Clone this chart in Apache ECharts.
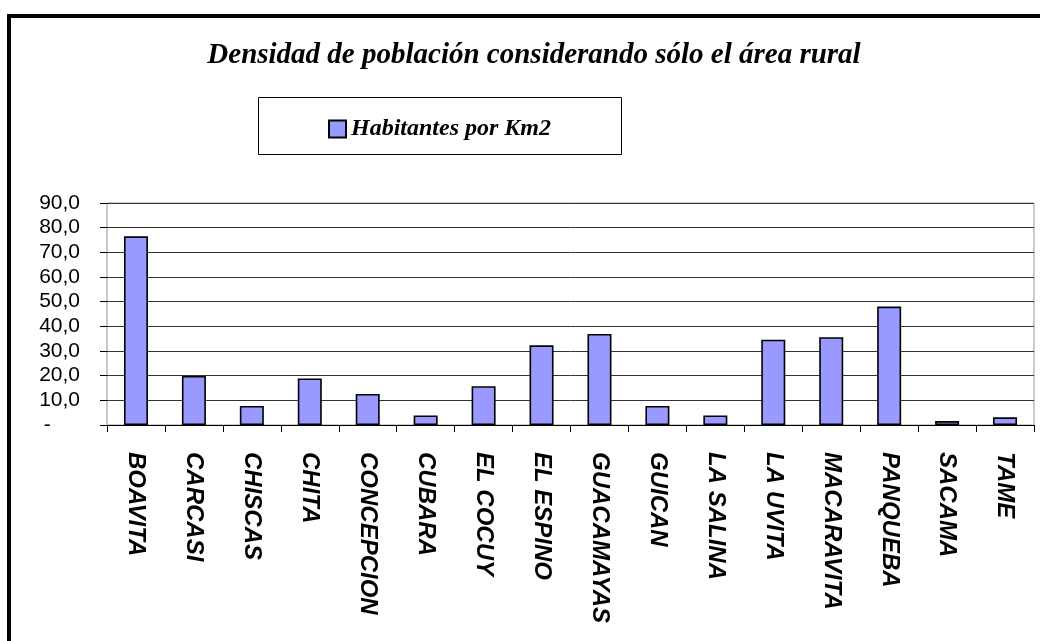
<!DOCTYPE html>
<html lang="es">
<head>
    <meta charset="UTF-8">
    <title>Densidad rural</title>
    <style>
        body {
            margin: 0;
            padding: 0;
            background: #fff;
        }
        #chart {
            width: 1040px;
            height: 641px;
        }
    </style>
</head>
<body>
<div id="chart"></div>
<script src="https://cdn.jsdelivr.net/npm/echarts@6/dist/echarts.min.js"></script>
<script>
    const municipios = [
        "BOAVITA", "CARCASI", "CHISCAS", "CHITA", "CONCEPCION", "CUBARA",
        "EL COCUY", "EL ESPINO", "GUACAMAYAS", "GUICAN", "LA SALINA",
        "LA UVITA", "MACARAVITA", "PANQUEBA", "SACAMA", "TAME"
    ];
    const habitantesKm2 = [
        76.5, 19.9, 7.7, 18.9, 12.6, 3.9,
        15.7, 32.3, 36.9, 7.7, 3.9,
        34.6, 35.6, 48.0, 1.6, 3.1
    ];
    const seriesName = "Habitantes por Km2";
    const titleText = "Densidad de población considerando sólo el área rural";

    const chart = echarts.init(document.getElementById("chart"));

    // excel style number format: 10,0 and "-" for zero
    function fmtY(v) {
        if (v === 0) return "-     ";
        return v.toFixed(1).replace(".", ",");
    }

    const option = {
        backgroundColor: "#fff",
        animation: false,
        title: {
            text: titleText,
            left: 529,
            textAlign: "center",
            top: 36,
            textStyle: {
                fontFamily: "Liberation Serif",
                fontStyle: "italic",
                fontWeight: "bold",
                fontSize: 29,
                color: "#000"
            }
        },
        legend: {
            left: 323,
            top: 112,
            itemWidth: 17,
            itemHeight: 17,
            icon: "rect",
            selectedMode: false,
            data: [seriesName],
            textStyle: {
                fontFamily: "Liberation Serif",
                fontStyle: "italic",
                fontWeight: "bold",
                fontSize: 24,
                color: "#000"
            }
        },
        graphic: [
            {
                type: "rect",
                shape: {x: 9, y: 16, width: 1100, height: 700},
                style: {fill: null, stroke: "#000", lineWidth: 4},
                silent: true
            },
            {
                type: "rect",
                shape: {x: 258.5, y: 97.5, width: 363, height: 57},
                style: {fill: null, stroke: "#000", lineWidth: 1},
                silent: true
            }
        ],
        grid: {
            left: 107,
            right: 6,
            top: 203,
            bottom: 216,
            show: true,
            borderColor: "#999",
            borderWidth: 1
        },
        xAxis: {
            type: "category",
            data: municipios,
            axisLine: {lineStyle: {color: "#000", width: 1}},
            axisTick: {show: true, length: 7, lineStyle: {color: "#000"}},
            axisLabel: {
                rotate: -90,
                margin: 27,
                interval: 0,
                fontFamily: "Liberation Sans",
                fontStyle: "italic",
                fontWeight: "bold",
                fontSize: 24,
                color: "#000"
            }
        },
        yAxis: {
            type: "value",
            min: 0,
            max: 90,
            interval: 10,
            axisLine: {show: false},
            axisTick: {show: true, length: 7, lineStyle: {color: "#000"}},
            splitLine: {lineStyle: {color: "#333", width: 1}},
            axisLabel: {
                formatter: fmtY,
                margin: 27,
                fontFamily: "Liberation Sans",
                fontSize: 21,
                color: "#000"
            }
        },
        series: [
            {
                name: seriesName,
                type: "bar",
                data: habitantesKm2,
                barWidth: 24,
                itemStyle: {
                    color: "#9999FF",
                    borderColor: "#000",
                    borderWidth: 1.6
                }
            }
        ]
    };

    chart.setOption(option);
</script>
</body>
</html>
